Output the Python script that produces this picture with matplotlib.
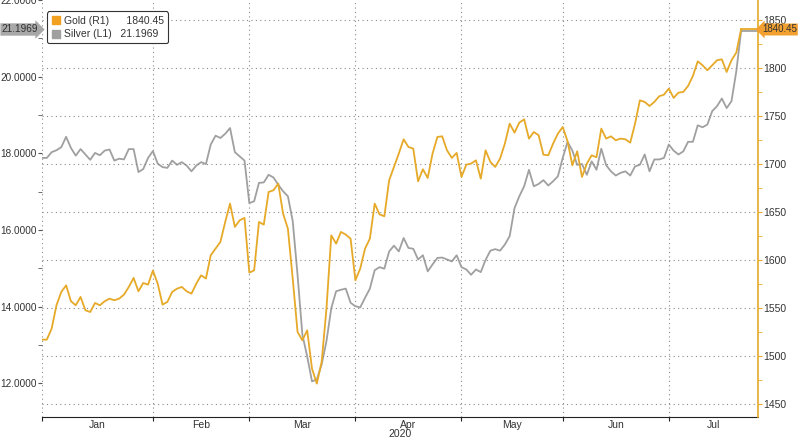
import numpy as np
import pandas as pd
import matplotlib.pyplot as plt
from matplotlib.ticker import MultipleLocator, FormatStrFormatter
from matplotlib.lines import Line2D

plt.rcParams['font.family'] = ['Liberation Sans', 'DejaVu Sans']

# Gold (right axis) i Silver (left axis), wartości dzienne (dni robocze od 2020-01-01)
gold = [1517, 1517, 1528.5, 1552.8, 1566.7, 1573.6, 1557, 1552.8, 1561.5, 1547.6,
        1545.8, 1555.2, 1552.8, 1557, 1559.7, 1558, 1559.7, 1563.9, 1571.9, 1581.3,
        1567.4, 1576, 1574.3, 1589, 1575.3, 1553.5, 1556.3, 1566.7, 1570.1, 1571.9,
        1567.4, 1564.9, 1575.3, 1584, 1580.6, 1604.9, 1611.8, 1618.8, 1639.6, 1658.7,
        1634.4, 1641.3, 1643.8, 1586.8, 1589.2, 1639.6, 1636.8, 1670.8, 1672.6, 1679.5,
        1648.3, 1632.6, 1580.6, 1525, 1516.3, 1526.7, 1486.8, 1471.2, 1493.8, 1549.3,
        1625.7, 1617, 1629.2, 1626.4, 1622.2, 1578.8, 1591, 1611.8, 1622.2, 1658.7,
        1647.5, 1645.5, 1683, 1696.9, 1710.8, 1725.7, 1717.7, 1716, 1681.9, 1694.5,
        1685.4, 1710.8, 1728.1, 1728.8, 1714.2, 1706.3, 1711.5, 1686.5, 1699.3, 1700.4,
        1703.8, 1684.7, 1714.2, 1702.1, 1696.9, 1705.6, 1721.2, 1742, 1732.6, 1743.1,
        1746.5, 1726.4, 1733.3, 1729.9, 1709.7, 1709, 1721.2, 1731.6, 1738.5, 1723.6,
        1698.6, 1713.2, 1686.5, 1700.3, 1709, 1707, 1736.8, 1726.4, 1728.8, 1724.7,
        1726.4, 1725.7, 1722.2, 1742, 1766.3, 1764.6, 1760.4, 1764.6, 1770.5, 1772.2,
        1778.5, 1768.8, 1774.3, 1775, 1781.3, 1791.7, 1806.9, 1802.8, 1797.6, 1802.8,
        1808, 1809, 1795.8, 1808, 1816, 1840.45]

silver = [17.88, 17.88, 18.03, 18.08, 18.16, 18.43, 18.14, 17.94, 18.11, 17.97,
          17.83, 18.01, 17.95, 18.07, 18.10, 17.81, 17.86, 17.84, 18.11, 18.11,
          17.51, 17.59, 17.88, 18.06, 17.73, 17.64, 17.62, 17.81, 17.70, 17.77,
          17.68, 17.53, 17.68, 17.77, 17.72, 18.23, 18.46, 18.40, 18.51, 18.66,
          18.03, 17.92, 17.81, 16.70, 16.75, 17.23, 17.24, 17.44, 17.37, 17.18,
          17.01, 16.88, 16.23, 14.83, 13.27, 12.70, 12.05, 12.10, 12.49, 13.10,
          13.96, 14.40, 14.44, 14.47, 14.10, 14.01, 13.98, 14.23, 14.47, 14.95,
          15.03, 14.99, 15.44, 15.59, 15.44, 15.79, 15.53, 15.51, 15.23, 15.34,
          14.92, 15.10, 15.27, 15.28, 15.23, 15.18, 15.34, 15.03, 14.97, 14.83,
          14.97, 14.90, 15.22, 15.46, 15.50, 15.46, 15.62, 15.84, 16.57, 16.88,
          17.14, 17.57, 17.14, 17.20, 17.30, 17.16, 17.27, 17.40, 17.88, 18.30,
          18.07, 17.70, 17.72, 17.44, 17.79, 17.57, 18.12, 17.69, 17.53, 17.42,
          17.49, 17.53, 17.42, 17.66, 17.70, 17.97, 17.53, 17.84, 17.84, 17.88,
          18.23, 18.07, 17.97, 18.05, 18.30, 18.30, 18.73, 18.68, 18.75, 19.10,
          19.23, 19.43, 19.18, 19.36, 20.14, 21.1969]

months = ['Jan', 'Feb', 'Mar', 'Apr', 'May', 'Jun', 'Jul']
year_label = '2020'
gold_label = 'Gold (R1)'
silver_label = 'Silver (L1)'

GOLD_C = '#E6A928'
SILVER_C = '#A0A0A0'
GRID_C = '#8a8a8a'
TXT_C = '#333333'
XMAX = 148.5

dates = pd.bdate_range('2020-01-01', periods=len(gold))
x = np.arange(len(gold))
bounds = [0] + [i for i in range(1, len(dates)) if dates[i].month != dates[i - 1].month]
centers = [(a + b) / 2 for a, b in zip(bounds, bounds[1:] + [XMAX])]

fig = plt.figure(figsize=(8, 4.41), dpi=100)
ax = fig.add_axes([0.0525, 0.0544, 0.895, 0.9456])
ax2 = ax.twinx()

# siatka
for b in bounds:
    ax.axvline(b, color=GRID_C, lw=0.8, ls=(0, (1, 3)), zorder=0)
for v in range(1450, 1851, 50):
    ax2.axhline(v, color=GRID_C, lw=0.8, ls=(0, (1, 3)), zorder=0)

ax.plot(x, silver, color=SILVER_C, lw=1.3)
ax.plot([x[-1], XMAX], [silver[-1], silver[-1]], color=SILVER_C, lw=1.3)
ax2.plot(x, gold, color=GOLD_C, lw=1.3)
ax2.plot([x[-1], XMAX], [gold[-1], gold[-1]], color=GOLD_C, lw=1.3)

ax.set_xlim(0, XMAX)
ax.set_ylim(11.12, 22.0)
ax2.set_ylim(1436.4, 1870.8)

# osie
for a in (ax, ax2):
    a.spines['top'].set_visible(False)
    a.spines['left'].set_visible(False)
ax.spines['right'].set_visible(False)
ax.spines['bottom'].set_color('#222222')
ax2.spines['bottom'].set_visible(False)
ax2.spines['right'].set_color(GOLD_C)
ax2.spines['right'].set_linewidth(1.2)

ax.yaxis.set_major_locator(MultipleLocator(2))
ax.yaxis.set_minor_locator(MultipleLocator(1))
ax.yaxis.set_major_formatter(FormatStrFormatter('%.4f'))
ax.tick_params(axis='y', which='both', length=3, color='#555555', labelsize=7.2, labelcolor=TXT_C, pad=1)

ax2.yaxis.set_major_locator(MultipleLocator(50))
ax2.yaxis.set_minor_locator(MultipleLocator(25))
ax2.tick_params(axis='y', which='both', length=3, color=GOLD_C, labelsize=7.5, labelcolor=TXT_C, pad=1)

ax.set_xticks(bounds)
ax.set_xticklabels([])
ax.set_xticks(centers, minor=True)
ax.set_xticklabels(months, minor=True)
ax.tick_params(axis='x', which='major', length=3, color='#222222')
ax.tick_params(axis='x', which='minor', length=0, labelsize=7.5, labelcolor=TXT_C, pad=2)
fig.text(0.5, 0.005, year_label, ha='center', va='bottom', fontsize=7.5, color=TXT_C)

# legenda (na ax2, żeby była nad siatką)
handles = [Line2D([], [], ls='none', marker='s', ms=6, color='#F2A020'),
           Line2D([], [], ls='none', marker='s', ms=6, color=SILVER_C)]
labels = [f'{gold_label}      {gold[-1]:.2f}', f'{silver_label}   {silver[-1]:.4f}']
leg = ax2.legend(handles, labels, loc='upper left', bbox_to_anchor=(0.0, 0.985),
                 fontsize=7.5, frameon=True, fancybox=True, framealpha=1,
                 handlelength=0.8, handletextpad=0.4, borderpad=0.4, labelspacing=0.35)
leg.get_frame().set_edgecolor('#333333')
leg.get_frame().set_linewidth(0.8)
for t in leg.get_texts():
    t.set_color(TXT_C)

# etykiety ostatnich wartości
fig.text(0.002, 1 - 29.5 / 441, f'{silver[-1]:.4f}', ha='left', va='center', fontsize=7.2,
         color=TXT_C, bbox=dict(boxstyle='rarrow,pad=0.12', fc='#A8A8A8', ec='none'))
fig.text(0.996, 1 - 29.5 / 441, f'{gold[-1]:.2f}', ha='right', va='center', fontsize=7,
         color=TXT_C, bbox=dict(boxstyle='larrow,pad=0.1', fc='#F2A030', ec='none'))

plt.savefig('out.png', dpi=100)
